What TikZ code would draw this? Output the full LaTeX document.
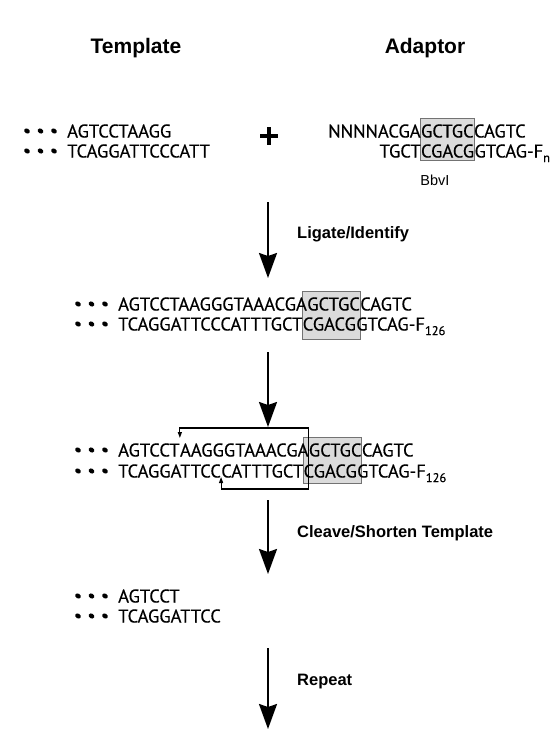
\documentclass[tikz,border=0pt]{standalone}
\usepackage{fontspec}
\setmainfont{Liberation Sans}
\newfontfamily\seqfont[FakeBold=0.4]{PT Sans}
\usetikzlibrary{arrows.meta,calc}
\pgfdeclarelayer{bg}
\pgfsetlayers{bg,main}
\tikzset{
  seq/.style={anchor=base west, inner sep=0pt, font=\seqfont\fontsize{18.5}{20}\selectfont},
  lab/.style={anchor=base west, inner sep=0pt, font=\bfseries\fontsize{16.5}{19}\selectfont},
  ttl/.style={anchor=base, inner sep=0pt, font=\bfseries\fontsize{21}{24}\selectfont},
  enz/.style={anchor=base, inner sep=0pt, font=\fontsize{14.5}{16}\selectfont},
  site/.style={fill=black!14, draw=black!55, line width=0.9pt},
  bigarrow/.style={line width=2pt, -{Stealth[width=18pt,length=25pt,inset=3pt]}},
  bracket/.style={line width=1.1pt, {Triangle[width=4pt,length=6pt]}-{Triangle[width=4pt,length=6pt]}},
}
\newcommand\seqdots[2]{%
  \foreach \dx in {-40,-26.5,-13}{%
    \fill[rotate around={-30:(#1+\dx,#2)}] (#1+\dx,#2) ellipse [x radius=3pt, y radius=2.4pt];
  }%
}
\newcommand\subn[1]{\raisebox{-4.5pt}{\fontsize{12.5}{13}\selectfont #1}}
% site box spanning two text pieces (top piece, bottom piece, top y, bottom y)
\newcommand\sitebox[4]{%
  \begin{pgfonlayer}{bg}
  \draw[site] let \p1=(#1.west), \p2=(#2.west), \p3=(#1.east), \p4=(#2.east) in
    ({min(\x1,\x2)},#3) rectangle ({max(\x3,\x4)},#4);
  \end{pgfonlayer}%
}
\begin{document}
\begin{tikzpicture}[x=1pt,y=-1pt]
\useasboundingbox (0,0) rectangle (560,732);
% titles
\node[ttl] (ttemp) at (136,53) {Template};
\node[ttl] (tadap) at (425,53) {Adaptor};
% stage 1
\seqdots{67}{131}
\seqdots{67}{151}
\node[seq] (t1a) at (67,137.5) {AGTCCTAAGG};
\node[seq] (t1b) at (67,157.5) {TCAGGATTCCCATT};
\draw[line width=4pt] (260,136) -- (278,136) (269,127) -- (269,145);
\node[seq] (ad1a) at (328,137.5) {NNNNACGA};
\node[seq] (ad1b) at (ad1a.base east) {GCTGC};
\node[seq] (ad1c) at (ad1b.base east) {CAGTC};
\node[seq] (ad2b) at (ad1b.base west |- 0,157.5) {CGACG};
\node[seq, anchor=base east] (ad2a) at (ad2b.base west) {TGCT};
\node[seq] (ad2c) at (ad2b.base east) {GTCAG-F\subn{n}};
\sitebox{ad1b}{ad2b}{118}{160}
\node[enz] (bbv) at (435,185) {BbvI};
% arrow 1
\coordinate (a1s) at (268,202); \coordinate (a1e) at (268,278);
\draw[bigarrow] (a1s) -- (a1e);
\node[lab] (l1) at (297,238) {Ligate/Identify};
% stage 2
\seqdots{118}{304}
\seqdots{118}{324}
\node[seq] (s2a1) at (118,310.5) {AGTCCTAAGGGTAAACGA};
\node[seq] (s2a2) at (s2a1.base east) {GCTGC};
\node[seq] (s2a3) at (s2a2.base east) {CAGTC};
\node[seq] (s2b1) at (118,330.5) {TCAGGATTCCCATTTGCT};
\node[seq] (s2b2) at (s2b1.base east) {CGACG};
\node[seq] (s2b3) at (s2b2.base east) {GTCAG-F\subn{126}};
\sitebox{s2a2}{s2b2}{291}{339}
% arrow 2
\coordinate (a2s) at (268,352); \coordinate (a2e) at (268,427);
\draw[bigarrow] (a2s) -- (a2e);
% stage 3
\seqdots{118}{450}
\seqdots{118}{471}
\node[seq] (s3a1) at (118,456.5) {AGTCCT};
\node[seq] (s3a2) at (s3a1.base east) {AAGGGTAAACGA};
\node[seq] (s3a3) at (s3a2.base east) {GCTGC};
\node[seq] (s3a4) at (s3a3.base east) {CAGTC};
\node[seq] (s3b1) at (118,477.5) {TCAGGATTCC};
\node[seq] (s3b2) at (s3b1.base east) {CATTTGCT};
\node[seq] (s3b3) at (s3b2.base east) {CGACG};
\node[seq] (s3b4) at (s3b3.base east) {GTCAG-F\subn{126}};
\sitebox{s3a3}{s3b3}{437}{483}
\coordinate (bt) at (s3a1.base east |- 0,438);
\coordinate (btc) at (s3a1.base east |- 0,428);
\coordinate (brt) at (s3a3.base west |- 0,428);
\coordinate (brb) at (s3a3.base west |- 0,489);
\coordinate (bbc) at (s3b1.base east |- 0,489);
\coordinate (bb) at (s3b1.base east |- 0,477);
\draw[bracket] (bt) -- (btc) -- (brt) -- (brb) -- (bbc) -- (bb);
% arrow 3
\coordinate (a3s) at (268,500); \coordinate (a3e) at (268,574);
\draw[bigarrow] (a3s) -- (a3e);
\node[lab] (l2) at (297,537) {Cleave/Shorten Template};
% stage 4
\seqdots{118}{596}
\seqdots{118}{616}
\node[seq] (s4a) at (118,602.5) {AGTCCT};
\node[seq] (s4b) at (118,622.5) {TCAGGATTCC};
% arrow 4
\coordinate (a4s) at (268,648); \coordinate (a4e) at (268,729);
\draw[bigarrow] (a4s) -- (a4e);
\node[lab] (l3) at (297,685) {Repeat};
\end{tikzpicture}
\end{document}
